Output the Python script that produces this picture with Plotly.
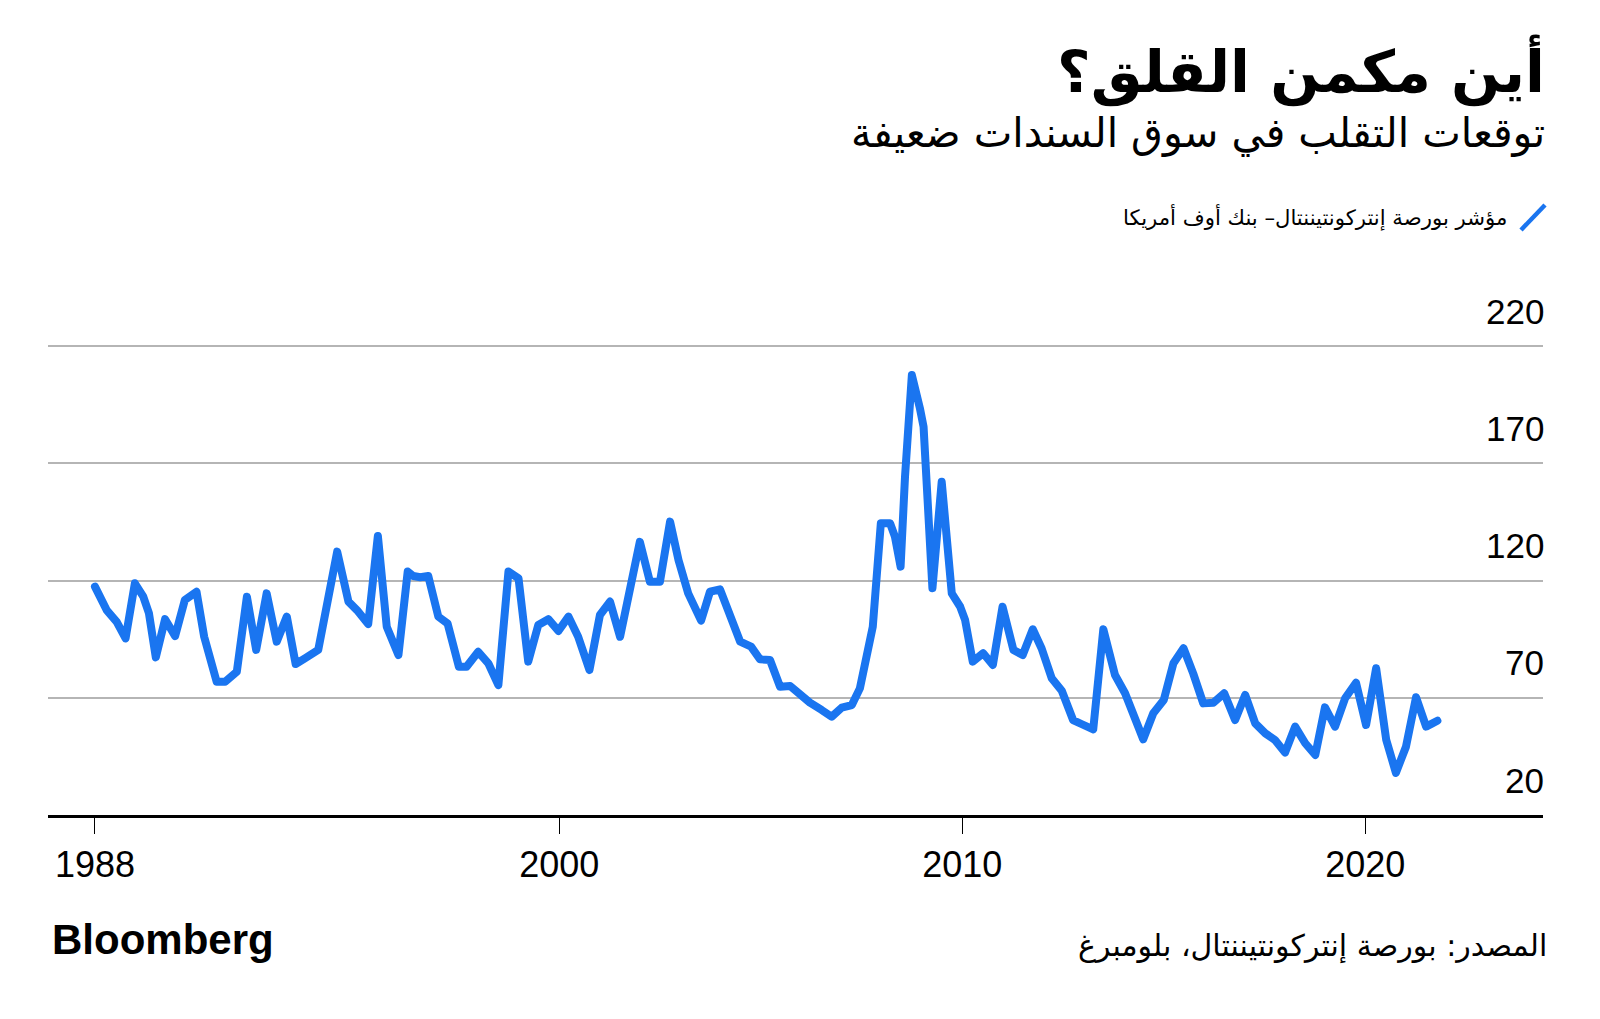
import plotly.graph_objects as go

# ---- data ----
years = [1988.48, 1988.77, 1989.02, 1989.24, 1989.47, 1989.68, 1989.82, 1989.99, 1990.22, 1990.47,
         1990.71, 1991.0, 1991.19, 1991.50, 1991.71, 1992.0, 1992.25, 1992.48, 1992.74, 1992.99,
         1993.24, 1993.46, 1993.69, 1994.02, 1994.49, 1994.77, 1994.98, 1995.26, 1995.50, 1995.72,
         1996.01, 1996.24, 1996.38, 1996.55, 1996.75, 1997.0, 1997.23, 1997.51, 1997.70, 1997.99,
         1998.24, 1998.49, 1998.74, 1998.99, 1999.23, 1999.48, 1999.73, 1999.98, 2000.23, 2000.47,
         2000.75, 2001.01, 2001.26, 2001.51, 2002.0, 2002.25, 2002.50, 2002.75, 2002.96, 2003.20,
         2003.52, 2003.74, 2003.99, 2004.24, 2004.49, 2004.76, 2004.98, 2005.23, 2005.48, 2005.73,
         2005.98, 2006.22, 2006.51, 2006.76, 2007.01, 2007.26, 2007.46, 2007.63, 2007.78, 2007.98,
         2008.21, 2008.33, 2008.47, 2008.58, 2008.75, 2008.95, 2009.04, 2009.26, 2009.38, 2009.49,
         2009.74, 2009.95, 2010.07, 2010.26, 2010.52, 2010.76, 2011.0, 2011.27, 2011.50, 2011.75,
         2011.97, 2012.22, 2012.47, 2012.75, 2012.97, 2013.25, 2013.50, 2013.79, 2014.04, 2014.25,
         2014.49, 2014.74, 2015.0, 2015.24, 2015.49, 2015.73, 2015.98, 2016.23, 2016.50, 2016.77,
         2017.02, 2017.27, 2017.52, 2017.76, 2018.01, 2018.26, 2018.51, 2018.76, 2019.0, 2019.25,
         2019.50, 2019.77, 2020.02, 2020.27, 2020.52, 2020.76, 2021.01, 2021.26, 2021.51, 2021.79]

move_index = [117.4, 107.4, 102.4, 95.3, 118.8, 113.1, 106, 87.2, 103.5, 96.3,
              111.7, 115.2, 96, 76.8, 76.8, 81.1, 113.1, 90.4, 114.5, 93.9,
              104.6, 84.4, 86.8, 90.4, 132.3, 111, 107.4, 101.4, 139, 100.3,
              88.2, 123.8, 121.9, 121.4, 121.9, 104.6, 101.7, 83.2, 83.2, 89.6,
              84.7, 75.4, 123.8, 120.9, 85.4, 101, 103.5, 98.5, 104.6, 96,
              81.8, 105.3, 111, 96, 136.5, 119.5, 119.5, 145.1, 128.7, 114.5,
              102.9, 115.2, 116.2, 105.3, 93.9, 91.8, 86.4, 86.1, 74.7, 75,
              71.2, 67.9, 64.8, 61.9, 65.8, 66.9, 74, 86.1, 100.3, 144.4,
              144.4, 138.7, 125.9, 164.3, 207.6, 193.4, 185.6, 116.7, 141.5, 162.1,
              114.5, 108.8, 103.2, 85.4, 89, 84, 108.8, 90.4, 88.2, 99.2,
              91, 78.3, 73, 60.5, 58.7, 56.5, 99.2, 79.7, 71.9, 62.6,
              52.3, 63.4, 69, 84.7, 91.1, 80.4, 67.6, 67.9, 71.9, 60.5,
              71.2, 59.1, 54.8, 52, 46.6, 57.7, 50.6, 45.6, 65.9, 57.7,
              69.8, 76.4, 58.4, 82.6, 52, 38, 49.1, 70.2, 57.7, 60.2]

x_tick_vals = [years[0], 2000, 2010, 2020]
x_tick_text = ["1988", "2000", "2010", "2020"]
y_tick_vals = [20, 70, 120, 170, 220]
y_tick_text = ["20", "70", "120", "170", "220"]

title_text = "أين مكمن القلق؟"
subtitle_text = "توقعات التقلب في سوق السندات ضعيفة"
legend_text = "مؤشر بورصة إنتركونتيننتال– بنك أوف أمريكا"
source_text = "المصدر: بورصة إنتركونتيننتال، بلومبرغ"
brand_text = "Bloomberg"

BLUE = "#1a75f0"
AR_FONT = "DejaVu Sans"
NUM_FONT = "Liberation Sans, Arial, sans-serif"

fig = go.Figure()
fig.add_trace(go.Scatter(
    x=years, y=move_index, mode="lines",
    line=dict(color=BLUE, width=8),
    hoverinfo="x+y", showlegend=False,
))

# plot area: x 48..1543 px, y 322..815 px
L, R, T, B = 48, 57, 322, 204
W, H = 1600, 1019
pw = W - L - R
ph = H - T - B

def px_x(px):
    return (px - L) / pw

def px_y(py):
    return (H - B - py) / ph

fig.update_layout(
    width=W, height=H,
    margin=dict(l=L, r=R, t=T, b=B, pad=0),
    paper_bgcolor="white", plot_bgcolor="white",
    font=dict(family=NUM_FONT, color="black"),
    xaxis=dict(
        range=[1987.315, 2024.41],
        tickmode="array", tickvals=x_tick_vals, ticktext=x_tick_text,
        showgrid=False, zeroline=False,
        showline=True, linecolor="black", linewidth=2.5,
        ticks="outside", ticklen=16, tickwidth=1.2, tickcolor="black",
        tickfont=dict(size=36, family=NUM_FONT, color="black"),
        ticklabelstandoff=0,
        fixedrange=True,
    ),
    yaxis=dict(
        range=[20, 20 + ph / 2.345],
        side="right",
        tickmode="array", tickvals=y_tick_vals,
        showticklabels=False,
        showgrid=True, gridcolor="#b5b5b5", gridwidth=1.5,
        zeroline=False, showline=False, ticks="",
        fixedrange=True,
    ),
)

annotations = [
    dict(text=f"<b>{title_text}</b>", x=1, y=px_y(70), xref="paper", yref="paper",
         xanchor="right", yanchor="middle", showarrow=False, xshift=4,
         font=dict(size=58, family=AR_FONT, color="black")),
    dict(text=subtitle_text, x=1, y=px_y(133), xref="paper", yref="paper",
         xanchor="right", yanchor="middle", showarrow=False, xshift=4,
         font=dict(size=41, family=AR_FONT, color="black")),
    dict(text=legend_text, x=px_x(1509), y=px_y(217), xref="paper", yref="paper",
         xanchor="right", yanchor="middle", showarrow=False,
         font=dict(size=21.2, family=AR_FONT, color="black")),
    dict(text=source_text, x=1, y=px_y(946), xref="paper", yref="paper",
         xanchor="right", yanchor="middle", showarrow=False, xshift=6,
         font=dict(size=30, family=AR_FONT, color="black")),
    dict(text=f"<b>{brand_text}</b>", x=px_x(50), y=px_y(939), xref="paper", yref="paper",
         xanchor="left", yanchor="middle", showarrow=False,
         font=dict(size=42, family=NUM_FONT, color="black")),
]
for v, t in zip(y_tick_vals, y_tick_text):
    annotations.append(dict(
        text=t, x=1, y=v, xref="paper", yref="y",
        xanchor="right", yanchor="middle", showarrow=False,
        xshift=3, yshift=35,
        font=dict(size=35, family=NUM_FONT, color="black")))
fig.update_layout(annotations=annotations)

fig.add_shape(type="line", xref="paper", yref="paper",
              x0=px_x(1521), y0=px_y(230), x1=px_x(1545), y1=px_y(205),
              line=dict(color=BLUE, width=4.5))

fig.write_html("out.html", config={"displayModeBar": False},
               post_script="document.querySelectorAll('.scatterlayer path.js-line').forEach(function(p){p.style.strokeLinejoin='round';p.style.strokeLinecap='round';});")
